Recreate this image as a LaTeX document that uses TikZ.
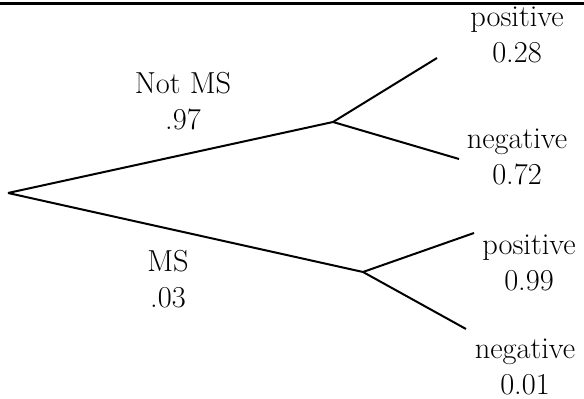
\documentclass[tikz,border=0pt]{standalone}
\usepackage{tikz}
\usetikzlibrary{positioning}

\tikzset{
  branch/.style={line width=1pt},
  prob/.style={align=center, inner sep=0pt, font=\fontsize{15.2}{18}\selectfont}
}

\begin{document}
\begin{tikzpicture}[x=0.5pt, y=-0.5pt]
  \useasboundingbox (0,0) rectangle (584,399);

  % rule along the top
  \coordinate (ruleL) at (0,3.5);
  \coordinate (ruleR) at (584,3.5);
  \draw[line width=1.6pt] (ruleL) -- (ruleR);

  % tree points
  \coordinate (root) at (8,193);
  \coordinate (notms) at (333,122);
  \coordinate (ms) at (363,272);
  \coordinate (np) at (437,58);
  \coordinate (nn) at (459,159);
  \coordinate (mp) at (474,233);
  \coordinate (mn) at (466,329);

  \draw[branch] (root) -- (notms);
  \draw[branch] (root) -- (ms);
  \draw[branch] (notms) -- (np);
  \draw[branch] (notms) -- (nn);
  \draw[branch] (ms) -- (mp);
  \draw[branch] (ms) -- (mn);

  % labels
  \node[prob] (lnotms) at (183,101) {Not MS\\.97};
  \node[prob] (lms) at (168,279) {MS\\.03};
  \node[prob] (lnp) at (517,35) {positive\\0.28};
  \node[prob] (lnn) at (517,157) {negative\\0.72};
  \node[prob] (lmp) at (529,263) {positive\\0.99};
  \node[prob] (lmn) at (525,367) {negative\\0.01};
\end{tikzpicture}
\end{document}
